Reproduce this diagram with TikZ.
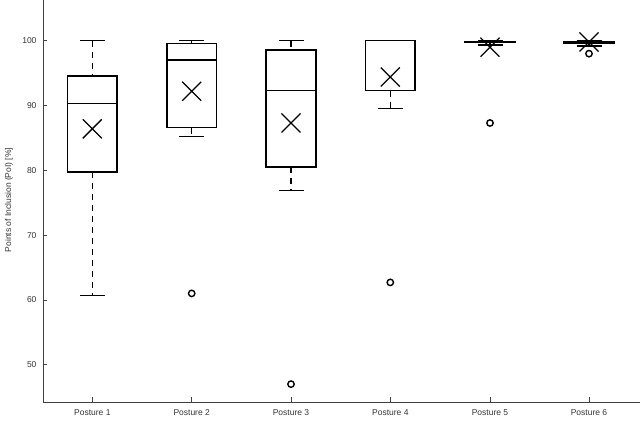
\documentclass[tikz,border=0pt]{standalone}
\usepackage{fontspec}
\setmainfont{Liberation Sans}
\tikzset{
 bp/.style={line width=1.5pt,black},
 axisline/.style={line width=0.5pt,black!75},
 lbl/.style={font=\fontsize{8.5}{10}\selectfont,text=black!80},
 outl/.style={line width=1.4pt,black}
}
\newcommand{\Y}[1]{40.7+(100-#1)*6.48}
\newcommand{\myboxplot}[7]{%
 \pgfmathsetmacro{\xa}{#1-24.8}\pgfmathsetmacro{\xb}{#1+24.8}
 \pgfmathsetmacro{\ca}{#1-12.5}\pgfmathsetmacro{\cb}{#1+12.5}
 \pgfmathsetmacro{\yt}{\Y{#2}}\pgfmathsetmacro{\yq}{\Y{#3}}
 \pgfmathsetmacro{\ym}{\Y{#4}}\pgfmathsetmacro{\yr}{\Y{#5}}
 \pgfmathsetmacro{\yl}{\Y{#6}}\pgfmathsetmacro{\yx}{\Y{#7}}
 \draw[bp,dash pattern=on 6pt off 5pt] (#1,\yt) -- (#1,\yq);
 \draw[bp,dash pattern=on 6pt off 5pt] (#1,\yr) -- (#1,\yl);
 \draw[bp] (\ca,\yt) -- (\cb,\yt) (\ca,\yl) -- (\cb,\yl);
 \draw[bp] (\xa,\yq) rectangle (\xb,\yr);
 \draw[bp] (\xa,\ym) -- (\xb,\ym);
 \draw[line width=1.3pt] (#1-9.5,\yx-9.5) -- (#1+9.5,\yx+9.5) (#1-9.5,\yx+9.5) -- (#1+9.5,\yx-9.5);
}
\begin{document}
\begin{tikzpicture}[x=1pt,y=-1pt]
\useasboundingbox (0,0) rectangle (640,422);
\draw[axisline] (43,0) -- (43,402) -- (640,402);
\foreach \v in {50,60,...,100}{
 \draw[axisline] (43,{\Y{\v}}) -- (47,{\Y{\v}});
 \node[lbl,anchor=east] at (40,{\Y{\v}}) {\v};
}
\foreach \i/\x in {1/92.3,2/191.7,3/291,4/390.3,5/490,6/589}{
 \draw[axisline] (\x,402) -- (\x,397);
 \node[lbl,anchor=north] at (\x,406) {Posture \i};
}
\node[lbl,rotate=90] at (9,200) {Points of Inclusion (PoI) [\%]};
\myboxplot{92.3}{100}{94.55}{90.3}{79.7}{60.7}{86.4}
\myboxplot{191.7}{100}{99.6}{97}{86.6}{85.2}{92.2}
\myboxplot{291}{100}{98.6}{92.3}{80.5}{76.9}{87.3}
\myboxplot{390.3}{100}{100}{100}{92.3}{89.5}{94.4}
\myboxplot{490}{100}{99.85}{99.85}{99.75}{99.3}{99.0}
\myboxplot{589}{100}{99.9}{99.75}{99.6}{99.2}{99.8}
\foreach \x/\v in {191.7/61,291/47,390.3/62.7,490/87.3,589/98}
 \draw[outl] (\x,{\Y{\v}}) circle (3.2);
\end{tikzpicture}
\end{document}
